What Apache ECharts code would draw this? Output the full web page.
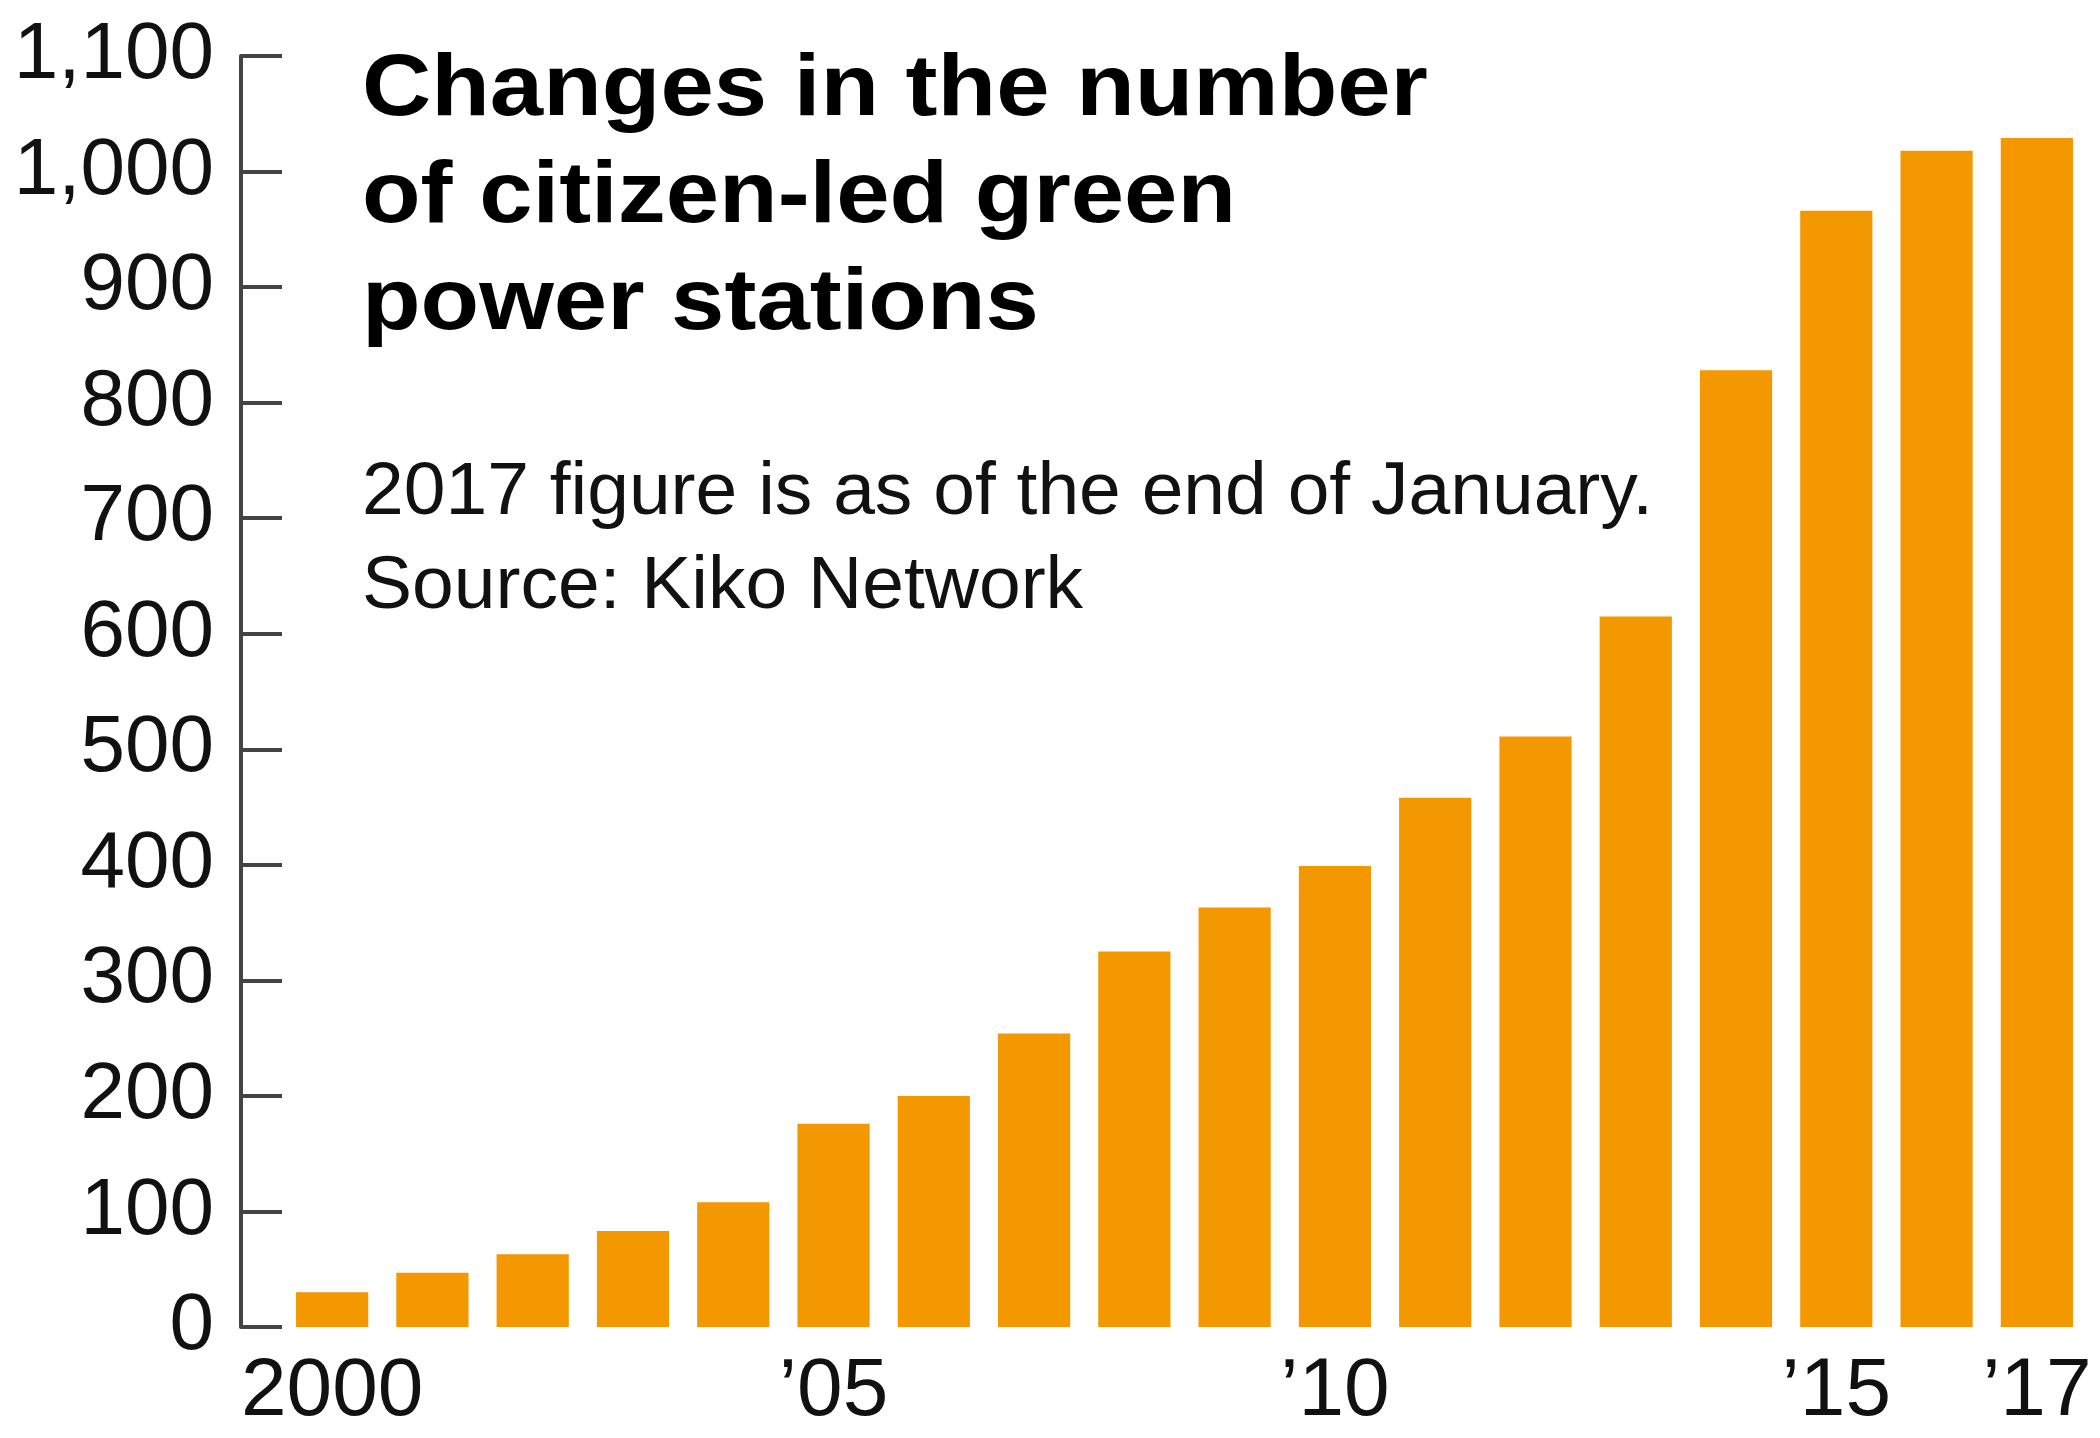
<!DOCTYPE html>
<html>
<head>
<meta charset="utf-8">
<script src="https://cdn.jsdelivr.net/npm/echarts@6/dist/echarts.min.js"></script>
<style>
html,body{margin:0;padding:0;background:#fff;}
#chart{width:2100px;height:1438px;}
</style>
</head>
<body>
<div id="chart"></div>
<script>
const years = ['2000','2001','2002','2003','2004','2005','2006','2007','2008','2009','2010','2011','2012','2013','2014','2015','2016','2017'];
const stations = [30,47,63,83,108,176,200,254,325,363,399,458,511,615,828,966,1018,1029];
const yearLabels = ['2000','','','','','\u201905','','','','','\u201910','','','','','\u201915','','\u201917'];
const titleLines = ['Changes in the number','of citizen-led green','power stations'];
const noteLines = ['2017 figure is as of the end of January.','Source: Kiko Network'];

const chart = echarts.init(document.getElementById('chart'));
const FONT = '"Liberation Sans", Arial, Helvetica, sans-serif';
chart.setOption({
  backgroundColor: '#ffffff',
  animation: false,
  grid: {left: 282, right: 13, top: 56, bottom: 111, containLabel: false},
  xAxis: {
    type: 'category',
    data: years,
    axisLine: {show: false},
    axisTick: {show: false},
    axisLabel: {
      interval: 0,
      margin: 24,
      fontFamily: FONT,
      fontSize: 82,
      color: '#111',
      formatter: (v, i) => yearLabels[i]
    }
  },
  yAxis: {
    type: 'value',
    min: 0, max: 1100, interval: 100,
    offset: 41,
    axisLine: {show: true, lineStyle: {color: '#444', width: 4}},
    axisTick: {show: true, inside: true, length: 41, lineStyle: {color: '#444', width: 4}},
    splitLine: {show: false},
    axisLabel: {
      margin: 27,
      fontFamily: FONT,
      fontSize: 80,
      color: '#111',
      formatter: v => v.toLocaleString('en-US')
    }
  },
  series: [{
    type: 'bar',
    data: stations,
    barCategoryGap: '28%',
    itemStyle: {color: '#F39800'}
  }],
  graphic: [
    {
      type: 'text', left: 362, top: 37, scaleX: 1.09, originX: 0,
      style: {
        text: titleLines.join('\n'),
        font: 'bold 88px ' + FONT,
        lineHeight: 107,
        fill: '#000'
      }
    },
    {
      type: 'text', left: 362, top: 446,
      style: {
        text: noteLines.join('\n'),
        font: '75px ' + FONT,
        lineHeight: 94,
        fill: '#111'
      }
    }
  ]
});
</script>
</body>
</html>
